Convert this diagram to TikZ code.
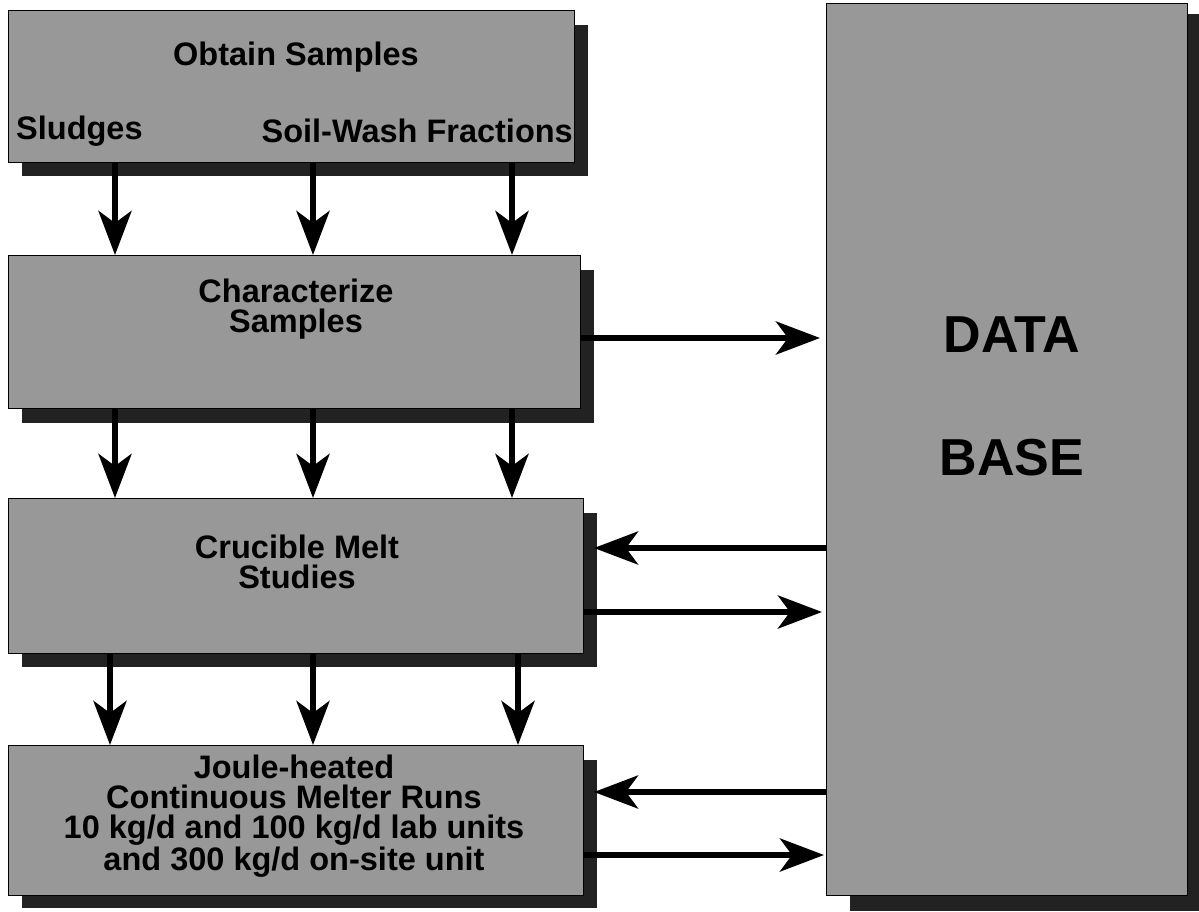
\documentclass[tikz,border=0pt]{standalone}
\usepackage{fontspec}
\setmainfont{Liberation Sans}
\usetikzlibrary{arrows.meta,calc}
\definecolor{boxgray}{RGB}{152,152,152}
\definecolor{shadowc}{RGB}{34,34,34}
\begin{document}
\begin{tikzpicture}[x=1pt,y=-1pt,
  procbox/.style={draw=black, line width=1pt, fill=boxgray, anchor=north west, inner sep=0pt},
  lbl/.style={font=\bfseries\fontsize{32.5}{30}\selectfont, align=center, inner sep=0pt, text=black},
  biglbl/.style={font=\bfseries\fontsize{52}{60}\selectfont, align=center, inner sep=0pt, text=black},
  flow/.style={line width=6pt, -{Stealth[length=44pt,width=33pt,inset=12pt]}},
  ]
\useasboundingbox (0,0) rectangle (1199,911);
\fill[white] (0,0) rectangle (1199,911);
% shadows
\fill[shadowc] (22,25) rectangle (588,176);
\fill[shadowc] (22,270) rectangle (594,423);
\fill[shadowc] (22,513) rectangle (597,667);
\fill[shadowc] (22,760) rectangle (597,908);
\fill[shadowc] (850,14) rectangle (1199,911);
% boxes
\node[procbox, minimum width=566pt, minimum height=152pt] (obtain) at (8,10) {};
\node[procbox, minimum width=572pt, minimum height=153pt] (charact) at (8,255) {};
\node[procbox, minimum width=575pt, minimum height=155pt] (crucible) at (8,498) {};
\node[procbox, minimum width=575pt, minimum height=150pt] (joule) at (8,745) {};
\node[procbox, minimum width=361pt, minimum height=892pt] (db) at (826,3) {};
% labels
\node[lbl] (tObtain) at (296,57) {Obtain Samples};
\node[lbl, anchor=west] (tSludges) at (16,131) {Sludges};
\node[lbl, anchor=east] (tSoil) at (573,131) {Soil-Wash Fractions};
\node[lbl] (tChar) at (296,309) {Characterize\\Samples};
\node[lbl] (tCruc) at (297,562) {Crucible Melt\\Studies};
\node[lbl] (tJoule) at (294,816) {Joule-heated\\Continuous Melter Runs\\10 kg/d and 100 kg/d lab units\\and 300 kg/d on-site unit};
\node[biglbl] (tData) at (1012,335) {DATA};
\node[biglbl] (tBase) at (1012,458) {BASE};
% vertical arrows
\foreach \dx in {107,305,504}{
  \draw[flow] ($(obtain.south west)+(\dx,0)$) -- ($(charact.north west)+(\dx,0)$);
  \draw[flow] ($(charact.south west)+(\dx,0)$) -- ($(crucible.north west)+(\dx,0)$);
}
\foreach \dx in {102,305,510}{
  \draw[flow] ($(crucible.south west)+(\dx,0)$) -- ($(joule.north west)+(\dx,0)$);
}
% horizontal arrows
\draw[flow] ($(charact.north east)+(0,83)$) -- ($(db.north west)+(-6,335)$);
\draw[flow] ($(db.north west)+(0,545)$) -- ($(crucible.north east)+(10,50)$);
\draw[flow] ($(crucible.north east)+(0,114)$) -- ($(db.north west)+(-4,609)$);
\draw[flow] ($(db.north west)+(0,789)$) -- ($(joule.north east)+(10,47)$);
\draw[flow] ($(joule.north east)+(0,110)$) -- ($(db.north west)+(-2,852)$);
\end{tikzpicture}
\end{document}
